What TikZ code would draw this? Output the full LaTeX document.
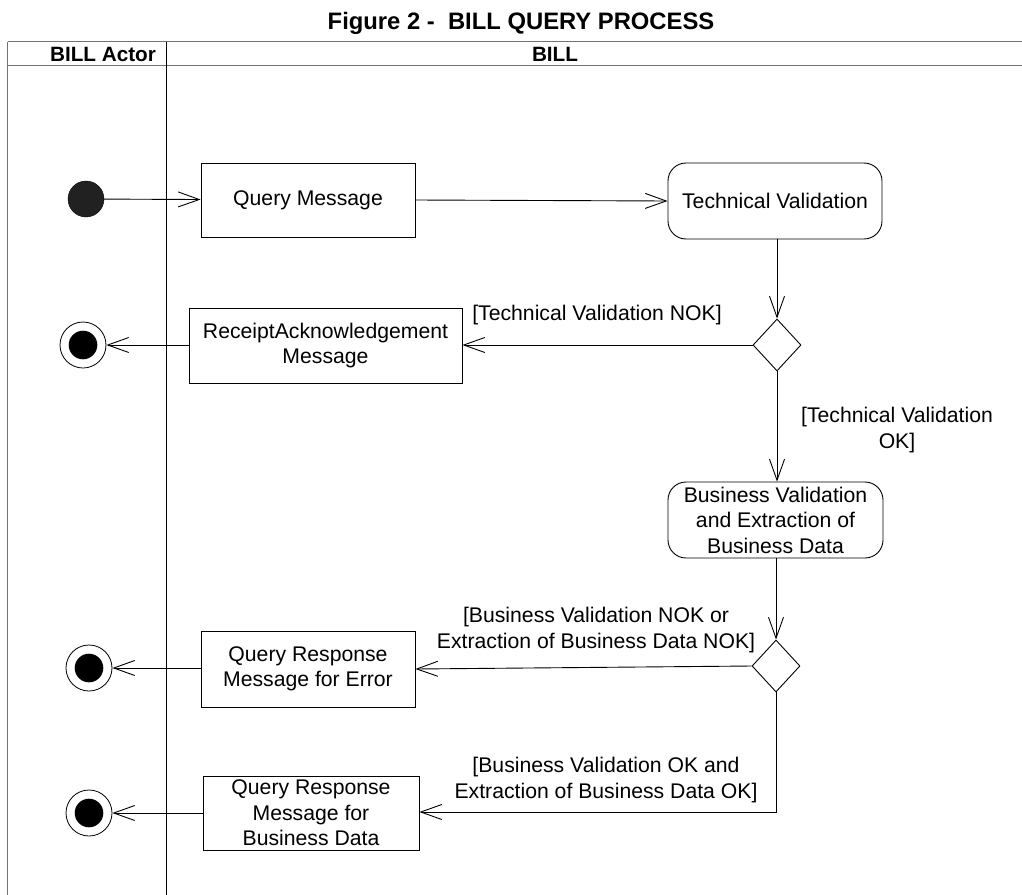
\documentclass[tikz,border=0pt]{standalone}
\usepackage{fontspec}
\setmainfont{Liberation Sans}
\usetikzlibrary{arrows.meta,shapes.geometric}
\begin{document}
\begin{tikzpicture}[x=1pt,y=-1pt,
  txt/.style={font=\fontsize{21.2}{25.5}\selectfont, align=center},
  actbox/.style={txt, draw, line width=0.9pt, inner sep=0pt},
  roundbox/.style={actbox, rounded corners=18pt},
  decision/.style={diamond, draw, line width=0.9pt, inner sep=0pt, minimum width=48pt, minimum height=52pt},
  startnode/.style={circle, fill=black!87, draw=black, inner sep=0pt, minimum size=36pt},
  endnode/.style={circle, draw, line width=0.8pt, inner sep=0pt, minimum size=46pt},
  flow/.style={line width=0.9pt, -{Straight Barb[length=21pt,width=15pt]}},
  hdr/.style={font=\fontsize{20.7}{24}\selectfont\bfseries},
  frame/.style={draw=black!55, line width=1.6pt}
]
\useasboundingbox (0,0) rectangle (1022,894);
% title and swimlanes
\node[font=\fontsize{23.8}{26}\selectfont\bfseries] (title) at (521,23) {Figure 2 -\ \ BILL QUERY PROCESS};
\draw[frame] (7.5,41.5) -- (1024,41.5);
\draw[frame] (7.5,65.5) -- (1024,65.5);
\draw[frame] (7.5,41.5) -- (7.5,896);
\draw[line width=1pt] (166,41.5) -- (166,896);
\node[hdr] (lane1) at (103,54) {BILL Actor};
\node[hdr] (lane2) at (555,54) {BILL};

% nodes
\node[startnode] (start) at (86,199) {};
\node[actbox, minimum width=214pt, minimum height=74pt] (qm) at (308,200) {Query Message};
\node[roundbox, minimum width=214pt, minimum height=76pt] (tv) at (775,201) {Technical Validation};
\node[decision] (d1) at (777,345) {};
\node[actbox, minimum width=273pt, minimum height=75pt] (ra) at (325.5,345.5) {ReceiptAcknowledgement\\Message};
\node[endnode] (e1) at (83,345) {};
\fill (e1.center) circle (14.3pt);
\node[roundbox, minimum width=215pt, minimum height=76pt] (bv) at (775.5,520) {Business Validation\\and Extraction of\\Business Data};
\node[decision] (d2) at (776,666) {};
\node[actbox, minimum width=214pt, minimum height=76pt] (qe) at (308,669) {Query Response\\Message for Error};
\node[endnode] (e2) at (89,668) {};
\fill (e2.center) circle (14.3pt);
\node[actbox, minimum width=216pt, minimum height=74pt] (qd) at (311,813) {Query Response\\Message for\\Business Data};
\node[endnode] (e3) at (89,813) {};
\fill (e3.center) circle (14.3pt);
\coordinate (corner) at (776,812);

% labels
\node[txt] (l1) at (597,315) {[Technical Validation NOK]};
\node[txt] (l2) at (897,430) {[Technical Validation\\OK]};
\node[txt] (l3) at (596,630) {[Business Validation NOK or\\Extraction of Business Data NOK]};
\node[txt] (l4) at (606,780) {[Business Validation OK and\\Extraction of Business Data OK]};

% connectors
\draw[flow] (start) -- (qm);
\draw[flow] (qm.east) -- (tv.west);
\draw[flow] (tv.south -| d1.north) -- (d1.north);
\draw[flow] (d1.west) -- (ra.east |- d1.west);
\draw[flow] (ra.west |- e1.east) -- (e1.east);
\draw[flow] (d1.south) -- (bv.north -| d1.south);
\draw[flow] (bv.south -| d2.north) -- (d2.north);
\draw[flow] (d2.west) -- (qe.east);
\draw[flow] (qe.west |- e2.east) -- (e2.east);
\draw[flow] (d2.south) -- (corner) -- (qd.east |- corner);
\draw[flow] (qd.west |- e3.east) -- (e3.east);
\end{tikzpicture}
\end{document}
